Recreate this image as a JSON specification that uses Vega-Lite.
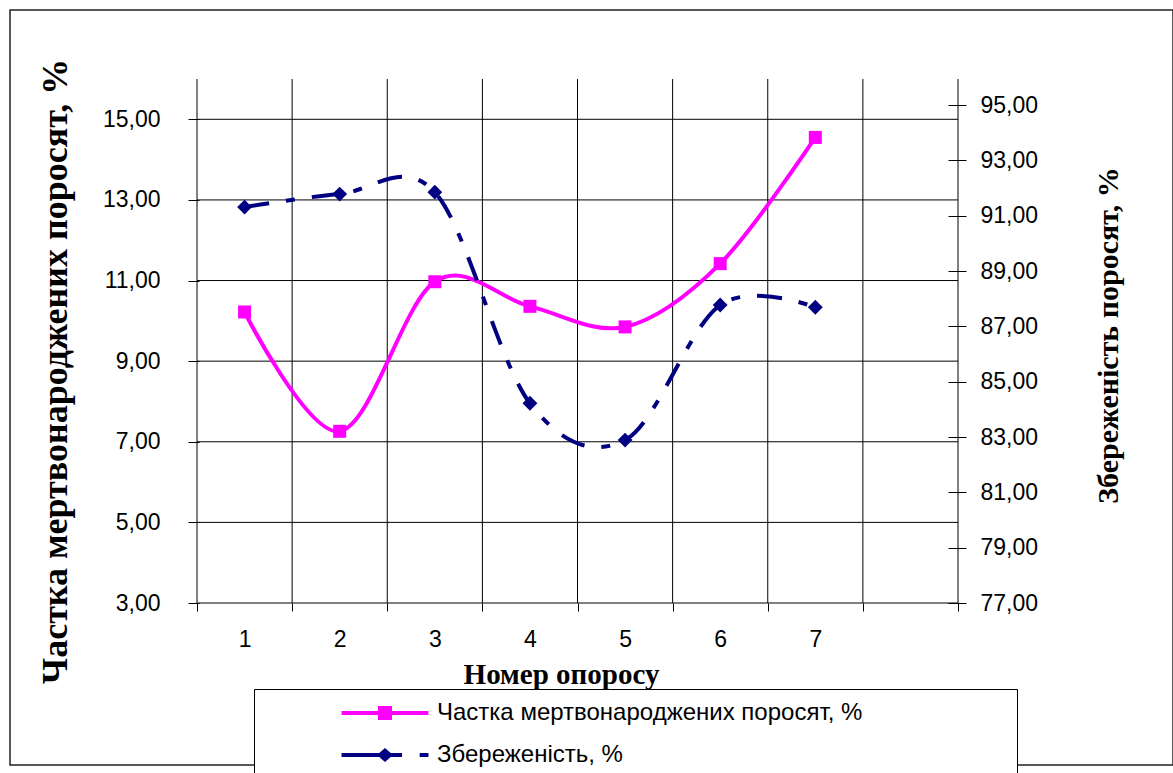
{
  "$schema": "https://vega.github.io/schema/vega-lite/v6.json",
  "width": 1163,
  "height": 755,
  "autosize": {"type": "none"},
  "padding": {"left": 10, "top": 10, "right": 0, "bottom": 8},
  "background": "white",
  "config": {
    "view": {"stroke": "#222222", "strokeWidth": 1.5},
    "axis": {
      "labelFont": "Liberation Sans",
      "labelFontSize": 23,
      "labelColor": "black",
      "titleColor": "black",
      "titleFont": "Liberation Serif",
      "titleFontWeight": "bold",
      "grid": false,
      "domain": false,
      "tickColor": "black",
      "tickWidth": 1
    },
    "legend": {
      "orient": "none",
      "legendX": 244,
      "legendY": 679,
      "strokeColor": "black",
      "strokeWidth": 1,
      "fillColor": "white",
      "padding": 12,
      "symbolSize": 484,
      "symbolStrokeWidth": 0,
      "symbolOffset": 107,
      "labelOffset": 40,
      "labelFont": "Liberation Sans",
      "labelFontSize": 24,
      "labelColor": "black",
      "labelLimit": 0,
      "rowPadding": 18
    }
  },
  "datasets": {
    "d": [
      {"n": 1, "mort": 10.22, "surv": 91.31},
      {"n": 2, "mort": 7.26, "surv": 91.78},
      {"n": 3, "mort": 10.97, "surv": 91.85},
      {"n": 4, "mort": 10.36, "surv": 84.22},
      {"n": 5, "mort": 9.85, "surv": 82.89},
      {"n": 6, "mort": 11.42, "surv": 87.77},
      {"n": 7, "mort": 14.55, "surv": 87.69}
    ],
    "gx": [{"g": 0.5}, {"g": 1.5}, {"g": 2.5}, {"g": 3.5}, {"g": 4.5}, {"g": 5.5}, {"g": 6.5}, {"g": 7.5}, {"g": 8.5}],
    "gy": [{"g": 3}, {"g": 5}, {"g": 7}, {"g": 9}, {"g": 11}, {"g": 13}, {"g": 15}]
  },
  "layer": [
    {
      "layer": [
        {
          "data": {"name": "gx"},
          "mark": {"type": "rule", "color": "black", "strokeWidth": 1},
          "encoding": {
            "x": {
              "field": "g",
              "type": "quantitative",
              "scale": {"domain": [0.5, 8.5], "range": [187, 948], "nice": false, "zero": false},
              "axis": {
                "orient": "bottom",
                "offset": -162,
                "values": [0.5, 1, 1.5, 2, 2.5, 3, 3.5, 4, 4.5, 5, 5.5, 6, 6.5, 7, 7.5, 8, 8.5],
                "labelExpr": "datum.value % 1 == 0 && datum.value < 8 ? format(datum.value, 'd') : ''",
                "tickOpacity": {"condition": {"test": "datum.value % 1 == 0", "value": 0}, "value": 1},
                "tickSize": 8,
                "labelPadding": 17,
                "labelFlush": false,
                "labelOverlap": false,
                "title": "Номер опоросу",
                "titleFontSize": 29,
                "titleX": 551,
                "titleY": 80,
                "titleAlign": "center",
                "titleBaseline": "alphabetic"
              }
            },
            "y": {"datum": 3, "type": "quantitative", "scale": {"domain": [3, 16], "range": [593, 69], "nice": false, "zero": false}},
            "y2": {"datum": 16}
          }
        },
        {
          "data": {"name": "gy"},
          "mark": {"type": "rule", "color": "black", "strokeWidth": 1},
          "encoding": {
            "y": {"field": "g", "type": "quantitative", "scale": {"domain": [3, 16], "range": [593, 69], "nice": false, "zero": false}},
            "x": {"datum": 0.5, "type": "quantitative"},
            "x2": {"datum": 8.5}
          }
        },
        {
          "data": {"name": "d"},
          "mark": {"type": "line", "color": "#FF00FF", "strokeWidth": 4, "interpolate": "cardinal"},
          "encoding": {
            "x": {"field": "n", "type": "quantitative"},
            "y": {
              "field": "mort",
              "type": "quantitative",
              "scale": {"domain": [3, 16], "range": [593, 69], "nice": false, "zero": false},
              "axis": {
                "orient": "left",
                "offset": -189,
                "values": [3, 5, 7, 9, 11, 13, 15],
                "labelExpr": "replace(format(datum.value, '.2f'), '.', ',')",
                "tickSize": 11,
                "labelPadding": 28,
                "title": "Частка мертвонароджених поросят, %",
                "titleFontSize": 36,
                "titleAngle": -90,
                "titleX": -144,
                "titleY": 361,
                "titleAlign": "center",
                "titleBaseline": "middle"
              }
            }
          }
        },
        {
          "data": {"name": "d"},
          "mark": {"type": "point", "shape": "square", "filled": true, "size": 169, "color": "#FF00FF", "opacity": 1},
          "encoding": {
            "x": {"field": "n", "type": "quantitative"},
            "y": {"field": "mort", "type": "quantitative", "scale": {"domain": [3, 16], "range": [593, 69], "nice": false, "zero": false}}
          }
        },
        {
          "data": {"values": []},
          "mark": {"type": "point", "filled": true, "size": 484, "opacity": 1},
          "encoding": {
            "color": {
              "field": "s",
              "type": "nominal",
              "scale": {"domain": ["Частка мертвонароджених поросят, %", "Збереженість, %"], "range": ["#FF00FF", "#000080"]},
              "legend": {"title": null}
            },
            "shape": {
              "field": "s",
              "type": "nominal",
              "scale": {
                "domain": ["Частка мертвонароджених поросят, %", "Збереженість, %"],
                "range": [
                  "M-3.95,-0.18H3.95V0.18H-3.95Z M-0.64,-0.64H0.64V0.64H-0.64Z M56.3,0",
                  "M-3.95,-0.18H1.55V0.18H-3.95Z M3.15,-0.18H3.95V0.18H3.15Z M-0.73,0L0,-0.64L0.73,0L0,0.64Z M56.3,0"
                ]
              },
              "legend": {"title": null}
            }
          }
        }
      ]
    },
    {
      "layer": [
        {
          "data": {"name": "d"},
          "mark": {"type": "line", "color": "#000080", "strokeWidth": 4, "interpolate": "cardinal", "strokeDash": [25, 17, 9, 17], "strokeCap": "butt"},
          "encoding": {
            "x": {"field": "n", "type": "quantitative"},
            "y": {
              "field": "surv",
              "type": "quantitative",
              "scale": {"domain": [77, 95.94], "range": [593, 69], "nice": false, "zero": false},
              "axis": {
                "orient": "right",
                "offset": -225,
                "values": [77, 79, 81, 83, 85, 87, 89, 91, 93, 95],
                "labelExpr": "replace(format(datum.value, '.2f'), '.', ',')",
                "tickSize": 18,
                "labelPadding": 14,
                "title": "Збереженість поросят, %",
                "titleFontSize": 30,
                "titleAngle": -90,
                "titleX": 160,
                "titleY": 325,
                "titleAlign": "center",
                "titleBaseline": "middle"
              }
            }
          }
        },
        {
          "data": {"name": "d"},
          "mark": {"type": "point", "shape": "diamond", "filled": true, "size": 220, "color": "#000080", "opacity": 1},
          "encoding": {
            "x": {"field": "n", "type": "quantitative"},
            "y": {"field": "surv", "type": "quantitative", "scale": {"domain": [77, 95.94], "range": [593, 69], "nice": false, "zero": false}}
          }
        }
      ]
    }
  ],
  "resolve": {"scale": {"y": "independent"}}
}
